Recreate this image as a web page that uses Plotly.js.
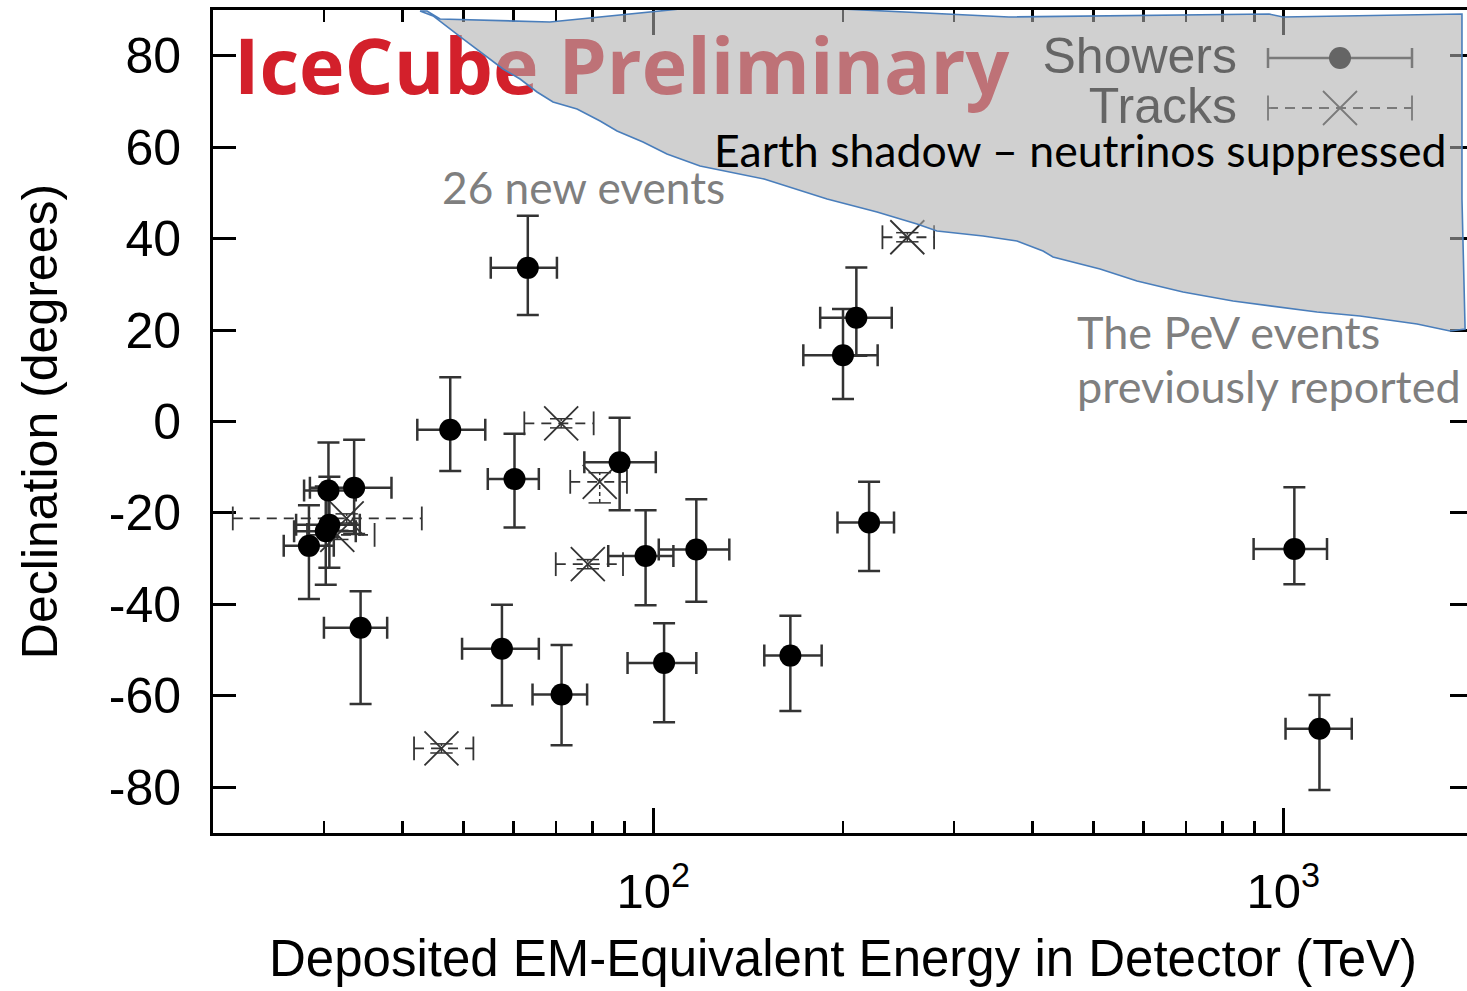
<!DOCTYPE html>
<html>
<head>
<meta charset="utf-8">
<script src="https://cdn.plot.ly/plotly-3.0.1.min.js"></script>
<style>
  html, body { margin: 0; padding: 0; overflow: hidden; background: #fff; }
  #chart { width: 1474px; height: 991px; }
</style>
</head>
<body>
<div id="chart"></div>
<script>
// ---------- Shower (cascade) events ----------
const showerEnergy      = [47.6, 117, 165, 28.4, 34.3, 63.2, 97.2, 88.4, 104, 1041, 57.5, 30.6, 200, 71.5, 1141, 30.2, 220, 30.5, 33.5, 210, 60.2];
const showerEnergyPlus  = [6.5, 15, 20, 2.7, 3.5, 7.1, 10.4, 12.5, 13, 132, 8.3, 3.6, 27, 7.0, 143, 3.5, 21, 3.2, 4.9, 29, 5.6];
const showerEnergyMinus = [5.4, 15, 15, 2.5, 4.3, 8.0, 12.4, 10.7, 13, 144, 7.8, 3.5, 27, 7.2, 133, 3.3, 24, 2.6, 5.0, 26, 5.6];
const showerDec         = [-1.8, -28.0, -51.2, -27.2, -45.1, 33.6, -29.4, -8.9, -52.8, -27.9, -49.7, -22.6, 14.5, -59.7, -67.2, -24.0, -22.1, -15.1, -14.5, 22.7, -12.6];
const showerDecUp       = [11.5, 11.0, 8.7, 8.9, 8.0, 11.4, 10.0, 9.7, 8.7, 13.5, 9.6, 10.5, 10.1, 10.8, 7.4, 9.8, 8.9, 10.5, 10.5, 11.0, 9.9];
const showerDecDown     = [9.0, 11.4, 12.1, 11.6, 16.7, 10.3, 10.8, 10.5, 13.0, 7.7, 12.4, 9.4, 9.6, 11.1, 13.4, 11.7, 10.6, 10.2, 10.1, 8.3, 10.6];

// ---------- Track (muon) events ----------
const trackEnergy      = [78.7, 71.4, 32.6, 253, 31.5, 82.2, 46.1];
const trackEnergyPlus  = [10.8, 9.0, 10.3, 26, 4.6, 8.6, 5.7];
const trackEnergyMinus = [8.7, 9.0, 11.1, 22, 3.3, 8.4, 4.4];
const trackDec         = [-31.2, -0.4, -21.2, 40.3, -24.8, -13.2, -71.5];
const trackDecUp       = [1.0, 1.0, 1.0, 1.0, 1.0, 2.0, 1.0];
const trackDecDown     = [1.0, 1.0, 1.0, 1.0, 1.0, 4.6, 1.0];

// ---------- Earth shadow outline (energy in TeV, declination in degrees) ----------
const shadowEnergy = [42.62, 44.71, 49.88, 55.66, 57.73, 61.44, 65.37, 69.30, 75.66, 82.31, 87.57, 96.29, 105.1, 118.6,
  149.9, 188.7, 226.5, 262.1, 282.0, 333.7, 377.7, 415.5, 430.9, 511.7, 585.8, 693.0, 832.0, 1131, 1323, 1630, 1839, 1943,
  1921, 1921, 998.7, 949, 366.8, 199.3, 163.6, 118.6, 68.5, 45.86, 43.73, 42.62];
const shadowDec = [89.78, 88.69, 83.66, 78.63, 77.10, 74.91, 72.07, 69.88, 68.35, 65.72, 63.54, 61.13, 58.51, 55.88,
  53.04, 48.66, 45.82, 43.19, 41.66, 40.57, 39.47, 37.29, 35.98, 33.35, 30.72, 28.32, 26.35, 23.95, 23.07, 21.32, 19.79, 20.23,
  48.66, 89.12, 88.47, 89.12, 88.47, 90.22, 91.75, 90.66, 87.38, 88.03, 89.78, 89.78];

// ---------- Axis ticks ----------
const xTickVals  = [100, 1000];
const xTickText  = ['10<sup>2</sup>', '10<sup>3</sup>'];
const xMinorVals = [30, 40, 50, 60, 70, 80, 90, 200, 300, 400, 500, 600, 700, 800, 900];
const yTickVals  = [-80, -60, -40, -20, 0, 20, 40, 60, 80];
const yTickText  = ['-80', '-60', '-40', '-20', '0', '20', '40', '60', '80'];

// ---------- Frame geometry (pixels) ----------
const PLOT_L = 213, PLOT_T = 10, PLOT_W = 1260, PLOT_H = 823;
const X_LO = Math.log10(20), X_HI = Math.log10(2000);
const Y_LO = -90, Y_HI = 90;
// pixel position inside the page -> axis value (for placing key and labels)
const xAt = px => Math.pow(10, X_LO + (px - PLOT_L) / PLOT_W * (X_HI - X_LO));
const yAt = py => Y_HI - (py - PLOT_T) / PLOT_H * (Y_HI - Y_LO);
const px2paperX = px => (px - PLOT_L) / PLOT_W;
const px2paperY = py => 1 - (py - PLOT_T) / PLOT_H;

const INK = '#333333';
const HELV = 'Liberation Sans, Arial, Helvetica, sans-serif';
const HUMANIST = 'Lato, Open Sans, sans-serif';

const traces = [];

// Watermark
traces.push({
  x: [xAt(234)], y: [yAt(75)], mode: 'text', text: ['<b>IceCube Preliminary</b>'],
  textposition: 'middle right', cliponaxis: false, hoverinfo: 'skip',
  textfont: { family: 'Open Sans, Noto Sans, sans-serif', size: 77, color: '#d3202b' }
});

// Key labels
traces.push({
  x: [xAt(1237), xAt(1237)], y: [yAt(60), yAt(110)], mode: 'text', text: ['Showers', 'Tracks'],
  textposition: 'middle left', cliponaxis: false, hoverinfo: 'skip',
  textfont: { family: HELV, size: 50, color: '#000' }
});

// Key sample: showers
const keyMid = xAt(1340), keyLeft = xAt(1268), keyRight = xAt(1412);
traces.push({
  x: [keyMid], y: [yAt(58)], mode: 'markers', hoverinfo: 'skip', cliponaxis: false,
  marker: { symbol: 'circle', size: 22, color: '#000' },
  error_x: { type: 'data', symmetric: false, array: [keyRight - keyMid], arrayminus: [keyMid - keyLeft],
             thickness: 2.5, width: 10, color: INK }
});
// Key sample: tracks
traces.push({
  x: [keyLeft, keyRight], y: [yAt(108), yAt(108)], mode: 'lines+markers', hoverinfo: 'skip',
  line: { color: INK, width: 1.8, dash: '10px,7px' },
  marker: { symbol: 'line-ns-open', size: 18, color: INK, line: { color: INK, width: 1.8 } }
});
traces.push({
  x: [keyMid], y: [yAt(108)], mode: 'markers', hoverinfo: 'skip',
  marker: { symbol: 'x-thin-open', size: 34, color: INK, line: { color: INK, width: 1.8 } }
});

// Track error bars (dashed), built from the track arrays
const tbx = [], tby = [], tvx = [], tvy = [];
trackEnergy.forEach((e, i) => {
  tbx.push(e - trackEnergyMinus[i], e + trackEnergyPlus[i], null);
  tby.push(trackDec[i], trackDec[i], null);
  tvx.push(e, e, null);
  tvy.push(trackDec[i] - trackDecDown[i], trackDec[i] + trackDecUp[i], null);
});
traces.push({
  x: tbx, y: tby, mode: 'lines+markers', hoverinfo: 'skip', connectgaps: false,
  line: { color: INK, width: 1.8, dash: '10px,7px' },
  marker: { symbol: 'line-ns-open', size: 17, color: INK, line: { color: INK, width: 1.8 } }
});
traces.push({
  x: tvx, y: tvy, mode: 'lines+markers', hoverinfo: 'skip', connectgaps: false,
  line: { color: INK, width: 1.5, dash: '4px,3px' },
  marker: { symbol: 'line-ew-open', size: 16, color: INK, line: { color: INK, width: 1.5 } }
});
traces.push({
  x: trackEnergy, y: trackDec, mode: 'markers', name: 'Tracks',
  marker: { symbol: 'x-thin-open', size: 34, color: INK, line: { color: INK, width: 1.8 } }
});

// Showers with error bars
traces.push({
  x: showerEnergy, y: showerDec, mode: 'markers', name: 'Showers',
  marker: { symbol: 'circle', size: 22, color: '#000' },
  error_x: { type: 'data', symmetric: false, array: showerEnergyPlus, arrayminus: showerEnergyMinus,
             thickness: 2.5, width: 11, color: INK },
  error_y: { type: 'data', symmetric: false, array: showerDecUp, arrayminus: showerDecDown,
             thickness: 2.5, width: 11, color: INK }
});

// Earth shadow region (translucent, on top of the plotted content)
traces.push({
  x: shadowEnergy, y: shadowDec, mode: 'lines', fill: 'toself', hoverinfo: 'skip',
  fillcolor: 'rgba(174,174,174,0.58)',
  line: { color: '#4a7ebb', width: 1.6 }
});

const axisCommon = {
  showline: true, linewidth: 3, linecolor: '#000', mirror: 'ticks',
  ticks: 'inside', tickcolor: '#000', showgrid: false, zeroline: false,
  layer: 'below traces', fixedrange: true
};

const layout = {
  width: 1474, height: 991,
  margin: { l: PLOT_L, r: 1474 - PLOT_L - PLOT_W, t: PLOT_T, b: 991 - PLOT_T - PLOT_H },
  paper_bgcolor: '#fff', plot_bgcolor: '#fff',
  showlegend: false,
  font: { family: HELV, color: '#000' },
  xaxis: Object.assign({}, axisCommon, {
    type: 'log', range: [X_LO, X_HI],
    tickmode: 'array', tickvals: xTickVals, ticktext: xTickText,
    ticklen: 25, tickwidth: 2.5, ticklabelstandoff: 13,
    tickfont: { family: HELV, size: 49, color: '#000' },
    minor: { tickmode: 'array', tickvals: xMinorVals, ticks: 'inside', ticklen: 12, tickwidth: 2.5, tickcolor: '#000' },
    title: { text: 'Deposited EM-Equivalent Energy in Detector (TeV)', font: { family: HELV, size: 51, color: '#000' }, standoff: 24 }
  }),
  yaxis: Object.assign({}, axisCommon, {
    range: [Y_LO, Y_HI],
    tickmode: 'array', tickvals: yTickVals, ticktext: yTickText,
    ticklen: 23, tickwidth: 3, ticklabelstandoff: 19,
    tickfont: { family: HELV, size: 50, color: '#000' },
    title: { text: 'Declination (degrees)', font: { family: HELV, size: 50, color: '#000' }, standoff: 36 }
  }),
  annotations: [
    { xref: 'paper', yref: 'paper', x: px2paperX(712), y: px2paperY(149),
      xanchor: 'left', yanchor: 'middle', showarrow: false,
      text: 'Earth shadow \u2013 neutrinos suppressed', font: { family: HUMANIST, size: 44.6, color: '#000' } },
    { xref: 'paper', yref: 'paper', x: px2paperX(440), y: px2paperY(187),
      xanchor: 'left', yanchor: 'middle', showarrow: false,
      text: '26 new events', font: { family: HUMANIST, size: 44.2, color: '#7f7f7f' } },
    { xref: 'paper', yref: 'paper', x: px2paperX(1075), y: px2paperY(332),
      xanchor: 'left', yanchor: 'middle', showarrow: false,
      text: 'The PeV events', font: { family: HUMANIST, size: 45, color: '#7f7f7f' } },
    { xref: 'paper', yref: 'paper', x: px2paperX(1075), y: px2paperY(386),
      xanchor: 'left', yanchor: 'middle', showarrow: false,
      text: 'previously reported', font: { family: HUMANIST, size: 45, color: '#7f7f7f' } }
  ]
};

Plotly.newPlot('chart', traces, layout, { displayModeBar: false, staticPlot: true });
</script>
</body>
</html>
